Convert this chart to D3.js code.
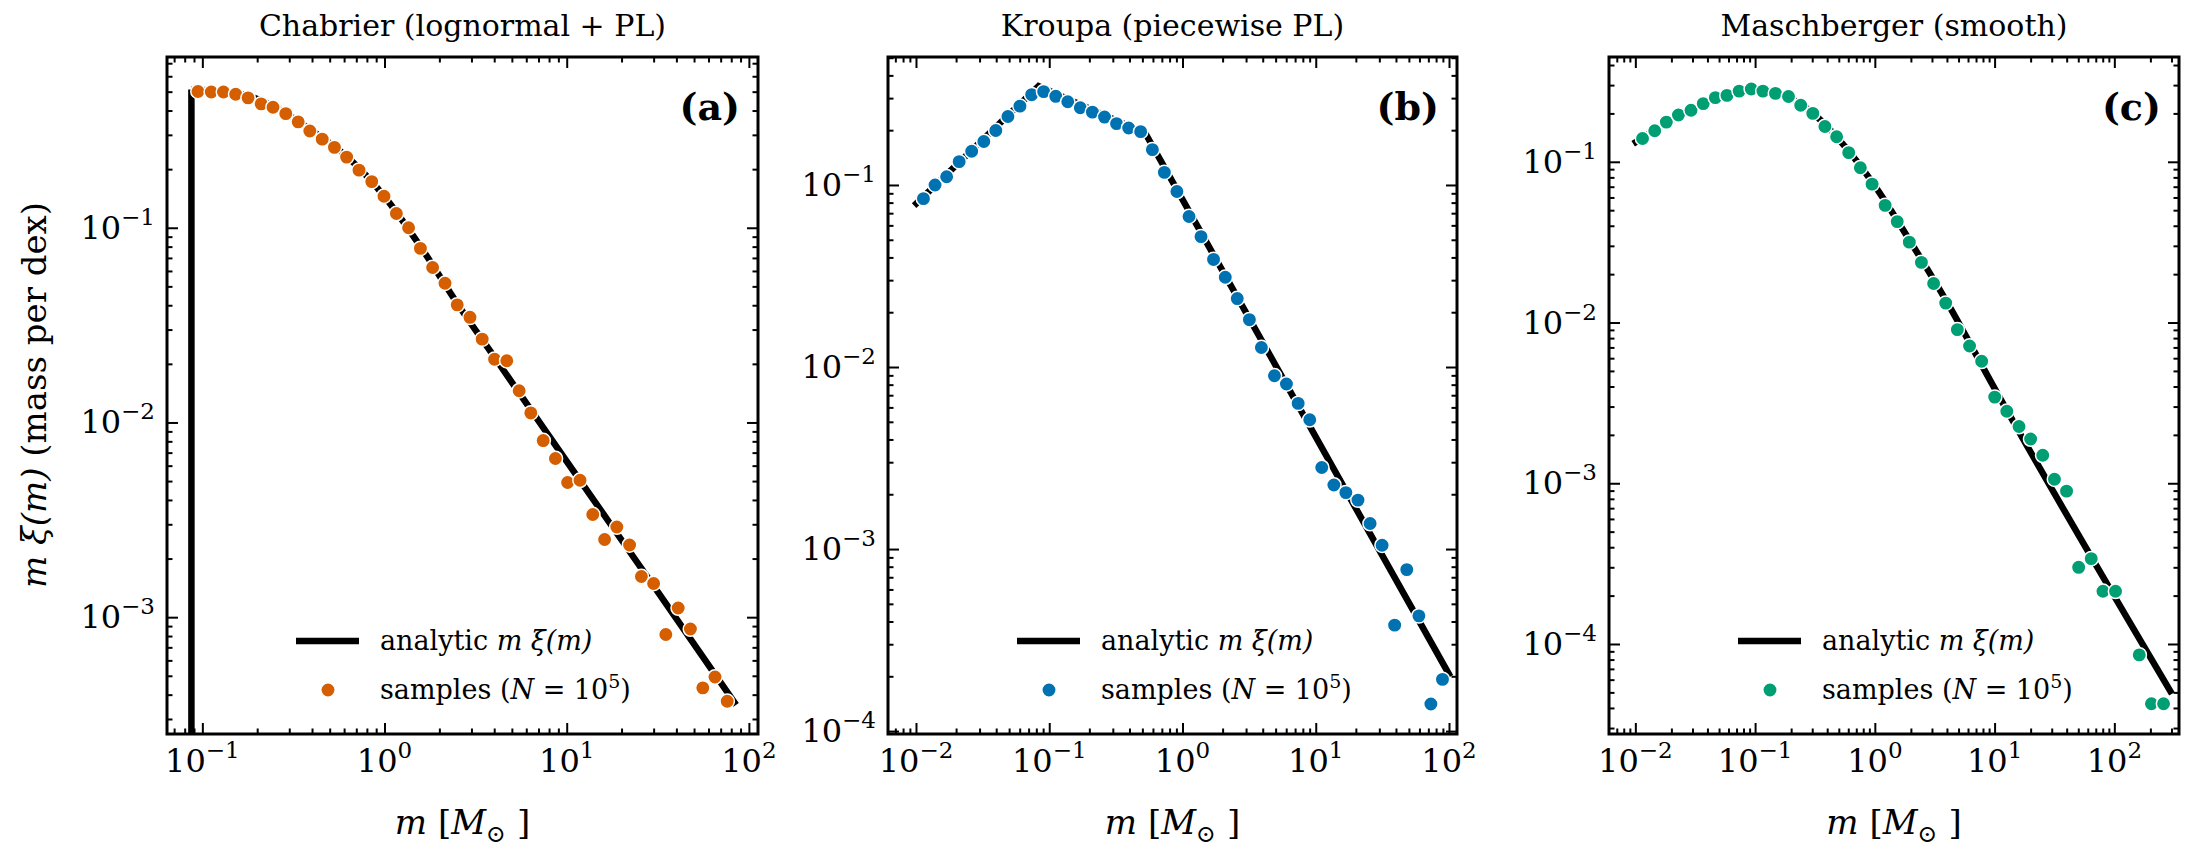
<!DOCTYPE html>
<html><head><meta charset="utf-8">
<script src="https://cdn.jsdelivr.net/npm/d3@7"></script>
<style>body{margin:0;background:#fff}text{font-family:"DejaVu Serif",serif}</style>
</head><body><svg id="c" width="2201" height="852"></svg>
<script>
// ---- data (log10 values) ----
const titles = ["Chabrier (lognormal + PL)", "Kroupa (piecewise PL)", "Maschberger (smooth)"];
const panelTags = ["(a)", "(b)", "(c)"];
const colors = ["#d55e00", "#0072b2", "#009e73"];
const xTicksA = [-1, 0, 1, 2];
const xTicksB = [-2, -1, 0, 1, 2];
const xTicksC = [-2, -1, 0, 1, 2];
const yTicksA = [-3, -2, -1];
const yTicksB = [-4, -3, -2, -1];
const yTicksC = [-4, -3, -2, -1];

const logMassA = [-1.024,-0.951,-0.884,-0.817,-0.749,-0.677,-0.612,-0.542,-0.474,-0.410,-0.342,-0.275,-0.208,-0.140,-0.070,-0.003,0.065,0.132,0.197,0.264,0.332,0.399,0.469,0.536,0.604,0.671,0.739,0.803,0.871,0.938,1.005,1.073,1.143,1.208,1.275,1.345,1.410,1.477,1.544,1.612,1.679,1.747,1.814,1.881];
const logValA = [-0.300,-0.303,-0.303,-0.314,-0.333,-0.364,-0.381,-0.414,-0.456,-0.503,-0.545,-0.587,-0.637,-0.704,-0.763,-0.838,-0.927,-1.000,-1.106,-1.204,-1.285,-1.396,-1.460,-1.572,-1.675,-1.683,-1.837,-1.951,-2.093,-2.185,-2.308,-2.297,-2.473,-2.601,-2.537,-2.629,-2.791,-2.827,-3.089,-2.953,-3.061,-3.363,-3.307,-3.432];
const lineLogMassA = [-1.06,-1.06,-0.8,-0.6,-0.4,-0.2,0,0.2,0.4,0.6,0.8,1.0,1.5,1.93];
const lineLogValA  = [-3.62,-0.29,-0.31,-0.38,-0.50,-0.64,-0.84,-1.10,-1.39,-1.66,-1.93,-2.20,-2.87,-3.45];

const logMassB = [-1.944,-1.857,-1.770,-1.676,-1.582,-1.491,-1.401,-1.310,-1.220,-1.132,-1.042,-0.951,-0.861,-0.767,-0.676,-0.585,-0.495,-0.404,-0.314,-0.226,-0.136,-0.042,0.049,0.139,0.233,0.321,0.411,0.502,0.592,0.690,0.780,0.868,0.955,1.045,1.136,1.226,1.317,1.408,1.498,1.592,1.683,1.774,1.864,1.951];
const logValB = [-1.075,-1.000,-0.955,-0.872,-0.815,-0.761,-0.701,-0.624,-0.567,-0.504,-0.487,-0.513,-0.543,-0.576,-0.600,-0.627,-0.663,-0.687,-0.707,-0.806,-0.931,-1.036,-1.173,-1.284,-1.409,-1.507,-1.624,-1.740,-1.893,-2.048,-2.093,-2.200,-2.290,-2.552,-2.648,-2.690,-2.731,-2.860,-2.979,-3.418,-3.113,-3.367,-3.851,-3.716];
const lineLogMassB = [-2.014,-1.080,-0.279,2.010];
const lineLogValB  = [-1.113,-0.457,-0.716,-3.701];

const logMassC = [-1.940,-1.838,-1.741,-1.640,-1.535,-1.433,-1.332,-1.235,-1.133,-1.032,-0.935,-0.830,-0.721,-0.619,-0.518,-0.417,-0.319,-0.218,-0.121,-0.023,0.086,0.187,0.288,0.389,0.491,0.592,0.689,0.791,0.892,1.001,1.102,1.204,1.301,1.402,1.500,1.601,1.702,1.807,1.905,2.010,2.208,2.310,2.411];
const logValC = [-0.855,-0.807,-0.753,-0.709,-0.679,-0.638,-0.601,-0.587,-0.560,-0.547,-0.560,-0.574,-0.594,-0.648,-0.699,-0.780,-0.844,-0.943,-1.037,-1.139,-1.271,-1.372,-1.500,-1.626,-1.757,-1.879,-2.044,-2.146,-2.241,-2.464,-2.552,-2.647,-2.725,-2.826,-2.975,-3.049,-3.523,-3.469,-3.672,-3.672,-4.068,-4.372,-4.372];
const lineLogMassC = [-2.018,-1.6,-1.3,-1.0,-0.8,-0.6,-0.4,-0.2,0,0.3,0.6,1.0,2.481];
const lineLogValC  = [-0.888,-0.70,-0.60,-0.55,-0.575,-0.65,-0.78,-0.95,-1.15,-1.50,-1.87,-2.41,-4.31];

// ---- layout ----
const panels = [
  {x0:167,x1:758,xd:[-1.194,2.05],yd:[-3.6,-0.123],xt:xTicksA,yt:yTicksA,m:logMassA,v:logValA,lm:lineLogMassA,lv:lineLogValA},
  {x0:888,x1:1457,xd:[-2.21,2.06],yd:[-4.016,-0.297],xt:xTicksB,yt:yTicksB,m:logMassB,v:logValB,lm:lineLogMassB,lv:lineLogValB},
  {x0:1609,x1:2179,xd:[-2.22,2.54],yd:[-4.56,-0.348],xt:xTicksC,yt:yTicksC,m:logMassC,v:logValC,lm:lineLogMassC,lv:lineLogValC}
];
const yTop=57, yBot=734;
const svg=d3.select("#c");
const p10=v=>Math.pow(10,v);

panels.forEach((p,i)=>{
  const x=d3.scaleLog().domain(p.xd.map(p10)).range([p.x0,p.x1]);
  const y=d3.scaleLog().domain(p.yd.map(p10)).range([yBot,yTop]);
  const g=svg.append("g");
  const clip="clip"+i;
  svg.append("clipPath").attr("id",clip).append("rect").attr("x",p.x0).attr("y",yTop).attr("width",p.x1-p.x0).attr("height",yBot-yTop);
  const pts=p.lm.map((m,k)=>[p10(m),p10(p.lv[k])]);
  const lineGen=c=>d3.line().x(d=>x(d[0])).y(d=>y(d[1])).curve(c);
  if(i===0){
    g.append("path").attr("clip-path",`url(#${clip})`).attr("d",lineGen(d3.curveLinear)(pts.slice(0,2)))
      .attr("fill","none").attr("stroke","#000").attr("stroke-width",6.5);
    g.append("path").attr("d",lineGen(d3.curveMonotoneX)(pts.slice(1)))
      .attr("fill","none").attr("stroke","#000").attr("stroke-width",6.5);
  } else {
    g.append("path").attr("d",lineGen(i===1?d3.curveLinear:d3.curveMonotoneX)(pts))
      .attr("fill","none").attr("stroke","#000").attr("stroke-width",6.5);
  }
  g.selectAll("circle.s").data(p.m.map((m,k)=>[p10(m),p10(p.v[k])])).join("circle")
    .attr("cx",d=>x(d[0])).attr("cy",d=>y(d[1])).attr("r",7.2)
    .attr("fill",colors[i]).attr("stroke","#fff").attr("stroke-width",1.5);
  const fmt=()=>"";
  const xMaj=p.xt.map(p10), yMaj=p.yt.map(p10);
  const minorX=[],minorY=[];
  for(let e=Math.floor(p.xd[0]);e<=Math.ceil(p.xd[1]);e++)for(let k=2;k<10;k++){const v=k*p10(e);if(v>=p10(p.xd[0])&&v<=p10(p.xd[1]))minorX.push(v);}
  for(let e=Math.floor(p.yd[0]);e<=Math.ceil(p.yd[1]);e++)for(let k=2;k<10;k++){const v=k*p10(e);if(v>=p10(p.yd[0])&&v<=p10(p.yd[1]))minorY.push(v);}
  const axes=[
    [d3.axisTop,x,yBot,0,xMaj,minorX],[d3.axisBottom,x,yTop,0,xMaj,minorX],
    [d3.axisRight,y,0,p.x0,yMaj,minorY],[d3.axisLeft,y,0,p.x1,yMaj,minorY]];
  axes.forEach(([A,s,ty,tx,maj,mn])=>{
    const a1=svg.append("g").attr("transform",`translate(${tx},${ty})`).call(A(s).tickValues(maj).tickSize(11).tickFormat(fmt));
    const a2=svg.append("g").attr("transform",`translate(${tx},${ty})`).call(A(s).tickValues(mn).tickSize(5.5).tickFormat(fmt));
    [a1,a2].forEach(a=>{a.select(".domain").remove();a.selectAll("line").attr("stroke","#000").attr("stroke-width",2);});
  });
  svg.append("rect").attr("x",p.x0).attr("y",yTop).attr("width",p.x1-p.x0).attr("height",yBot-yTop)
    .attr("fill","none").attr("stroke","#000").attr("stroke-width",3);
  p.xt.forEach(e=>{
    const t=svg.append("text").attr("x",x(p10(e))).attr("y",772).attr("text-anchor","middle").attr("font-size",32);
    t.append("tspan").text("10");
    t.append("tspan").attr("dy",-14).attr("font-size",23).text(String(e).replace("-","−"));
  });
  p.yt.forEach(e=>{
    const t=svg.append("text").attr("x",p.x0-12).attr("y",y(p10(e))+11).attr("text-anchor","end").attr("font-size",32);
    t.append("tspan").text("10");
    t.append("tspan").attr("dy",-14).attr("font-size",23).text(String(e).replace("-","−"));
  });
  const cx=(p.x0+p.x1)/2;
  svg.append("text").attr("x",cx).attr("y",36).attr("text-anchor","middle").attr("font-size",30).text(titles[i]);
  svg.append("text").attr("x",p.x1-18).attr("y",120).attr("text-anchor","end").attr("font-size",38).attr("font-weight","bold").text(panelTags[i]);
  const xl=svg.append("text").attr("x",cx).attr("y",834).attr("text-anchor","middle").attr("font-size",34);
  xl.append("tspan").attr("font-style","italic").text("m");
  xl.append("tspan").text(" [");
  xl.append("tspan").attr("font-style","italic").text("M");
  xl.append("tspan").attr("dy",8).attr("font-size",24).text("⊙");
  xl.append("tspan").attr("dy",-8).text(" ]");
  const lx=p.x0+129;
  svg.append("line").attr("x1",lx).attr("x2",lx+63).attr("y1",641).attr("y2",641).attr("stroke","#000").attr("stroke-width",6.5);
  const t1=svg.append("text").attr("x",lx+84).attr("y",650).attr("font-size",27);
  t1.append("tspan").text("analytic ");
  t1.append("tspan").attr("font-style","italic").text("m ξ(m)");
  svg.append("circle").attr("cx",lx+32).attr("cy",690).attr("r",7.2).attr("fill",colors[i]).attr("stroke","#fff").attr("stroke-width",1.5);
  const t2=svg.append("text").attr("x",lx+84).attr("y",699).attr("font-size",27);
  t2.append("tspan").text("samples (");
  t2.append("tspan").attr("font-style","italic").text("N");
  t2.append("tspan").text(" = 10");
  t2.append("tspan").attr("dy",-11).attr("font-size",19).text("5");
  t2.append("tspan").attr("dy",11).text(")");
});
const yl=svg.append("text").attr("transform","translate(46,395) rotate(-90)").attr("text-anchor","middle").attr("font-size",34);
yl.append("tspan").attr("font-style","italic").text("m ξ(m)");
yl.append("tspan").text("  (mass per dex)");
</script></body></html>
